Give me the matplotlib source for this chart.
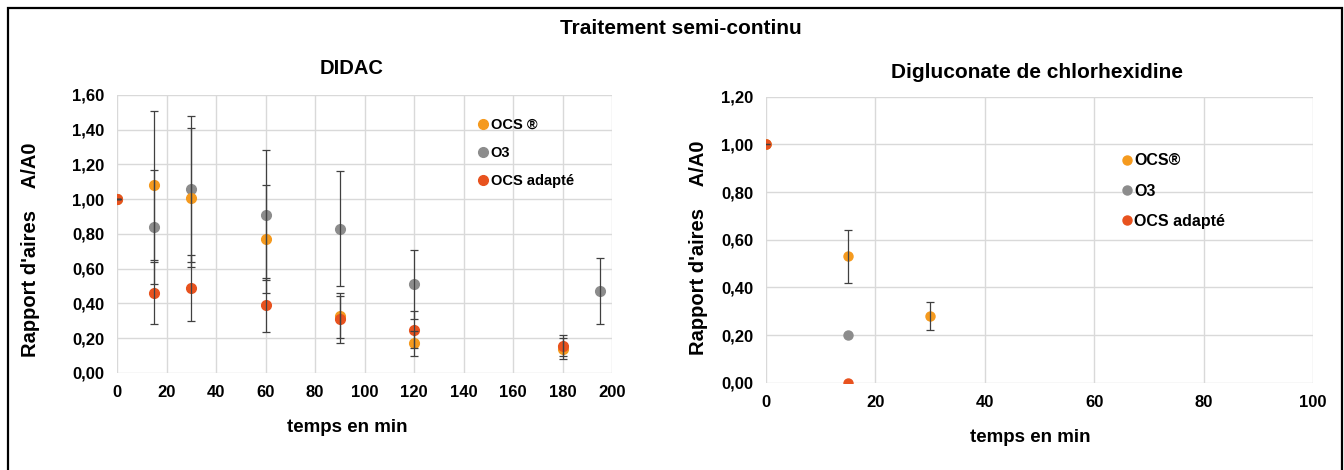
import numpy as np
import matplotlib as mplt
import matplotlib.pyplot as plt
from matplotlib.patches import Rectangle
from matplotlib.ticker import FuncFormatter

# DIDAC - time (min), ratio A/A0 and std dev
t_ocs = [0, 15, 30, 60, 90, 120, 180]
ocs = [1.00, 1.08, 1.01, 0.77, 0.33, 0.17, 0.14]
ocs_err = [0, 0.43, 0.40, 0.31, 0.13, 0.07, 0.06]

t_o3 = [0, 15, 30, 60, 90, 120, 195]
o3 = [1.00, 0.84, 1.06, 0.91, 0.83, 0.51, 0.47]
o3_err = [0, 0.33, 0.42, 0.375, 0.33, 0.20, 0.19]

t_ad = [0, 15, 30, 60, 90, 120, 180]
ad = [1.00, 0.46, 0.49, 0.39, 0.31, 0.25, 0.156]
ad_err = [0, 0.18, 0.19, 0.155, 0.135, 0.105, 0.06]

# Digluconate de chlorhexidine
t2_ocs = [0, 15, 30]
ocs2 = [1.00, 0.53, 0.28]
ocs2_err = [0, 0.11, 0.06]
t2_o3 = [0, 15]
o3_2 = [1.00, 0.20]
t2_ad = [0, 15]
ad2 = [1.00, 0.00]

c_ocs = '#F59A1E'
c_o3 = '#8C8C8C'
c_ad = '#E8521E'
c_err = '#404040'
c_grid = '#D9D9D9'

mplt.rcParams['font.family'] = ['Liberation Sans', 'DejaVu Sans']
mplt.rcParams['font.weight'] = 'bold'

fig = plt.figure(figsize=(13.44, 4.70), dpi=100)

# outer frame
fig.patches.append(Rectangle((0.006, -0.02), 0.9925, 1.003, transform=fig.transFigure,
                             fill=False, lw=1.6, ec='black'))

comma = FuncFormatter(lambda v, p: ('%.2f' % v).replace('.', ','))

def style(ax, xmax, ymax):
    ax.set_xlim(0, xmax)
    ax.set_ylim(0, ymax)
    ax.grid(True, color=c_grid, lw=1)
    ax.set_axisbelow(True)
    for s in ax.spines.values():
        s.set_visible(False)
    ax.tick_params(length=0, labelsize=12, pad=9)
    ax.yaxis.set_major_formatter(comma)
    for lab in ax.get_xticklabels() + ax.get_yticklabels():
        lab.set_fontweight('bold')

# left plot
ax1 = fig.add_axes([0.0871, 0.2064, 0.3683, 0.5915])
ax1.plot(t_o3, o3, 'o', color=c_o3, ms=7, label='O3', zorder=3)
ax1.plot(t_ocs, ocs, 'o', color=c_ocs, ms=7, label='OCS \u00ae', zorder=3)
ax1.plot(t_ad, ad, 'o', color=c_ad, ms=7, label='OCS adapté', zorder=3)
for t, v, e in [(t_o3, o3, o3_err), (t_ocs, ocs, ocs_err), (t_ad, ad, ad_err)]:
    ax1.errorbar(t, v, yerr=e, fmt='none', ecolor=c_err, elinewidth=0.9, capsize=3, capthick=0.9, zorder=4)
ax1.set_xticks(np.arange(0, 201, 20))
ax1.set_yticks(np.arange(0, 1.61, 0.2))
style(ax1, 200, 1.6)
h, l = ax1.get_legend_handles_labels()
ax1.legend([h[1], h[0], h[2]], [l[1], l[0], l[2]], loc='center left',
           bbox_to_anchor=(479 / 1344, 1 - 153 / 470), bbox_transform=fig.transFigure,
           frameon=False, handlelength=0.5, handletextpad=0.3, labelspacing=0.95,
           borderpad=0, borderaxespad=0, prop={'weight': 'bold', 'size': 10.5})

# right plot
ax2 = fig.add_axes([0.570, 0.1857, 0.4069, 0.6085])
ax2.plot(t2_o3, o3_2, 'o', color=c_o3, ms=6.5, label='O3', zorder=3)
ax2.plot(t2_ocs, ocs2, 'o', color=c_ocs, ms=6.5, label='OCS\u00ae', zorder=3)
ax2.plot(t2_ad, ad2, 'o', color=c_ad, ms=6.5, label='OCS adapté', zorder=3)
ax2.errorbar(t2_ocs, ocs2, yerr=ocs2_err, fmt='none', ecolor=c_err, elinewidth=0.9,
             capsize=3, capthick=0.9, zorder=4)
ax2.set_xticks(np.arange(0, 101, 20))
ax2.set_yticks(np.arange(0, 1.21, 0.2))
style(ax2, 100, 1.2)
h, l = ax2.get_legend_handles_labels()
ax2.legend([h[1], h[0], h[2]], [l[1], l[0], l[2]], loc='center left',
           bbox_to_anchor=(1123 / 1344, 1 - 191 / 470), bbox_transform=fig.transFigure,
           frameon=False, handlelength=0.5, handletextpad=0.2, labelspacing=0.95,
           borderpad=0, borderaxespad=0, prop={'weight': 'bold', 'size': 11.5})

# texts
fig.text(681 / 1344, 1 - 28 / 470, 'Traitement semi-continu', ha='center', va='center',
         fontsize=15, fontweight='bold')
fig.text(352 / 1344, 1 - 69 / 470, 'DIDAC', ha='center', va='center', fontsize=14.5, fontweight='bold')
fig.text(1037 / 1344, 1 - 72 / 470, 'Digluconate de chlorhexidine', ha='center', va='center',
         fontsize=15, fontweight='bold')
fig.text(347 / 1344, 1 - 428 / 470, 'temps en min', ha='center', va='center', fontsize=13.5, fontweight='bold')
fig.text(1030 / 1344, 1 - 438 / 470, 'temps en min', ha='center', va='center', fontsize=13.5, fontweight='bold')
fig.text(31 / 1344, 1 - 250 / 470, "Rapport d'aires    A/A0", ha='center', va='center', rotation=90,
         fontsize=14.5, fontweight='bold')
fig.text(698 / 1344, 1 - 248 / 470, "Rapport d'aires    A/A0", ha='center', va='center', rotation=90,
         fontsize=14.5, fontweight='bold')

plt.savefig('out.png', dpi=100)
